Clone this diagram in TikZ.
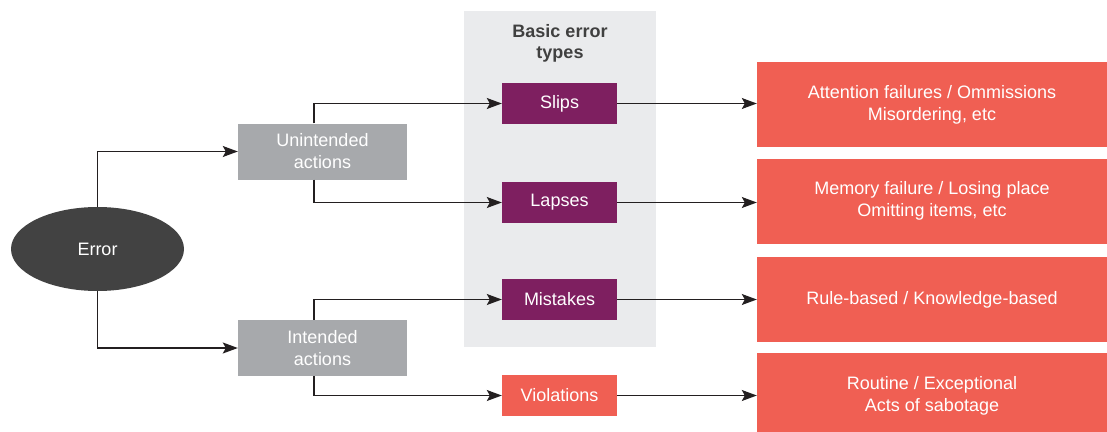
\documentclass[tikz,border=0pt]{standalone}
\usepackage{fontspec}
\setmainfont{Liberation Sans}
\usetikzlibrary{arrows.meta,shapes.geometric}
\definecolor{ellfill}{HTML}{424242}
\definecolor{actgray}{HTML}{A7A9AC}
\definecolor{plum}{HTML}{7E1F60}
\definecolor{coral}{HTML}{F05F53}
\definecolor{panelgray}{HTML}{EAEBED}
\definecolor{titlegray}{HTML}{404040}
\definecolor{linecol}{HTML}{231F20}
\tikzset{
  box/.style={rectangle, inner sep=0pt, align=center, text=white,
    font=\fontsize{18}{22}\selectfont},
  actbox/.style={box, fill=actgray, minimum width=169pt, minimum height=56pt},
  typebox/.style={box, fill=plum, minimum width=115pt, minimum height=41pt},
  violbox/.style={box, fill=coral, minimum width=115pt, minimum height=41pt},
  descbox/.style={box, fill=coral, minimum width=350pt, minimum height=85pt},
  conn/.style={draw=linecol, line width=1.25pt,
    -{Stealth[length=15pt,width=11pt,inset=3pt]}}
}
\begin{document}
\begin{tikzpicture}[x=1pt,y=-1pt]
\useasboundingbox (0,0) rectangle (1107,431);
% panel behind the basic error types
\fill[panelgray] (464,11) rectangle (656,347);
\node[font=\bfseries\fontsize{18}{21}\selectfont, text=titlegray, align=center]
  (title) at (560,43) {Basic error\\types};

\node[ellipse, fill=ellfill, minimum width=173pt, minimum height=84pt, inner sep=0pt,
  text=white, font=\fontsize{18}{22}\selectfont] (err) at (97.5,249) {Error};

\node[actbox] (unint) at (322.5,151.5) {Unintended\\actions};
\node[actbox] (int) at (322.5,348) {Intended\\actions};

\node[typebox] (slips) at (559.5,103.5) {Slips};
\node[typebox] (lapses) at (559.5,202.5) {Lapses};
\node[typebox] (mistakes) at (559.5,299.5) {Mistakes};
\node[violbox] (viol) at (559.5,395.5) {Violations};

\node[descbox] (dslips) at (932,104.5) {Attention failures / Ommissions\\Misordering, etc};
\node[descbox] (dlapses) at (932,201) {Memory failure / Losing place\\Omitting items, etc};
\node[descbox] (dmist) at (932,299.5) {Rule-based / Knowledge-based};
\node[descbox] (dviol) at (932,395.5) {Routine / Exceptional\\Acts of sabotage};

% error splits into unintended and intended actions
\draw[conn] (err.north) |- (unint.west);
\draw[conn] (err.south) |- (int.west);

% actions lead to the basic error types
\draw[conn] ([xshift=-8.5pt]unint.north) |- (slips.west);
\draw[conn] ([xshift=-8.5pt]unint.south) |- (lapses.west);
\draw[conn] ([xshift=-8.5pt]int.north) |- (mistakes.west);
\draw[conn] ([xshift=-8.5pt]int.south) |- (viol.west);

% error types to their descriptions
\draw[conn] (slips.east) -- (slips.east -| dslips.west);
\draw[conn] (lapses.east) -- (lapses.east -| dlapses.west);
\draw[conn] (mistakes.east) -- (mistakes.east -| dmist.west);
\draw[conn] (viol.east) -- (viol.east -| dviol.west);
\end{tikzpicture}
\end{document}
